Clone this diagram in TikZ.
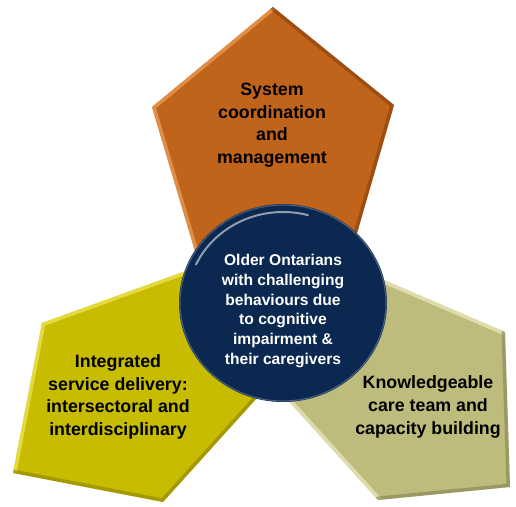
\documentclass[tikz,border=0pt]{standalone}
\usepackage{fontspec}
\setmainfont{Liberation Sans}
\definecolor{rust}{RGB}{192,100,28}
\definecolor{rustlight}{RGB}{236,160,90}
\definecolor{rustdark}{RGB}{130,62,12}
\definecolor{mustard}{RGB}{200,188,0}
\definecolor{mustardlight}{RGB}{240,232,90}
\definecolor{mustarddark}{RGB}{135,125,0}
\definecolor{khaki}{RGB}{190,188,125}
\definecolor{khakilight}{RGB}{235,234,190}
\definecolor{khakidark}{RGB}{128,126,78}
\definecolor{navy}{RGB}{10,40,80}
\begin{document}
\begin{tikzpicture}[x=1pt,y=-1pt,
  facetext/.style={align=center, inner sep=0pt, text=black,
    font=\bfseries\fontsize{17.8}{22.6}\selectfont},
  hubtext/.style={align=center, inner sep=0pt, text=white,
    font=\bfseries\fontsize{15.6}{19.7}\selectfont},
  lightedge/.style={draw=#1, line width=7pt, line cap=round, opacity=0.7},
  darkedge/.style={draw=#1, line width=7pt, line cap=round, opacity=0.55}]
\useasboundingbox (0,0) rectangle (516,506);
\fill[white] (0,0) rectangle (516,506);

% corners of the three pentagons
\coordinate (t1) at (273,7);   \coordinate (t2) at (394,105);
\coordinate (t3) at (347,268); \coordinate (t4) at (200,268);
\coordinate (t5) at (152,107);
\coordinate (l1) at (13,473);  \coordinate (l2) at (42,323);
\coordinate (l3) at (205,264); \coordinate (l4) at (275,378);
\coordinate (l5) at (163,502);
\coordinate (r1) at (510,487); \coordinate (r2) at (378,500);
\coordinate (r3) at (275,386); \coordinate (r4) at (370,274);
\coordinate (r5) at (505,332);

% lower left pentagon
\fill[mustard] (l1)--(l2)--(l3)--(l4)--(l5)--cycle;
\begin{scope}
  \clip (l1)--(l2)--(l3)--(l4)--(l5)--cycle;
  \draw[lightedge=mustardlight] (l1)--(l2)--(l3);
  \draw[darkedge=mustarddark] (l4)--(l5)--(l1);
\end{scope}

% lower right pentagon
\fill[khaki] (r1)--(r2)--(r3)--(r4)--(r5)--cycle;
\begin{scope}
  \clip (r1)--(r2)--(r3)--(r4)--(r5)--cycle;
  \draw[lightedge=khakilight] (r2)--(r3);
  \draw[lightedge=khakilight] (r4)--(r5);
  \draw[darkedge=khakidark] (r5)--(r1)--(r2);
\end{scope}

% top pentagon
\fill[rust] (t1)--(t2)--(t3)--(t4)--(t5)--cycle;
\begin{scope}
  \clip (t1)--(t2)--(t3)--(t4)--(t5)--cycle;
  \draw[lightedge=rustlight] (t4)--(t5)--(t1);
  \draw[darkedge=rustdark] (t1)--(t2)--(t3);
\end{scope}

% central hub
\fill[navy] (283,303) ellipse [x radius=104, y radius=99];
\draw[white, opacity=0.25, line width=1.2pt] (283,303) ellipse [x radius=103, y radius=98];
\draw[white, opacity=0.55, line width=2pt, line cap=round]
  (283,303) ++(205:96 and 91) arc [start angle=205, end angle=285, x radius=96, y radius=91];

% labels
\node[facetext] (top) at (272,125) {System\\coordination\\and\\management};
\node[facetext] (left) at (118,397) {Integrated\\service delivery:\\intersectoral and\\interdisciplinary};
\node[facetext] (right) at (428,407) {Knowledgeable\\care team and\\capacity building};
\node[hubtext] (hub) at (283,311) {Older Ontarians\\with challenging\\behaviours due\\to cognitive\\impairment \&\\their caregivers};
\end{tikzpicture}
\end{document}
